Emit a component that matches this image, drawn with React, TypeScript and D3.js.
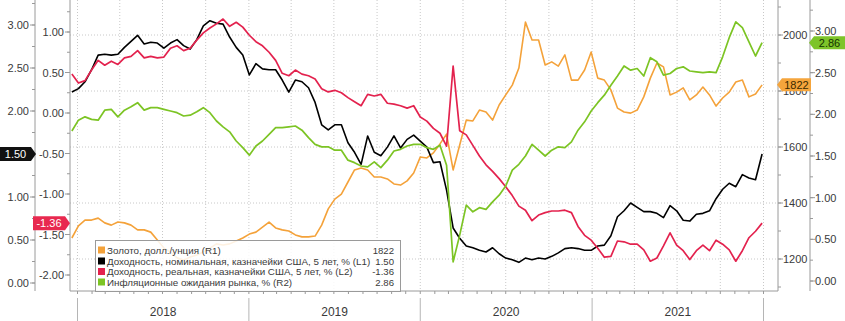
import React from "react";
import * as d3 from "d3";

const START = new Date(2017, 11, 20);
const dates = d3.range(106).map((i) => d3.timeDay.offset(START, 14 * i));

const gold = [
  1275, 1318, 1339, 1339, 1346, 1329, 1321, 1332, 1329, 1321,
  1304, 1304, 1296, 1268, 1239, 1225, 1204, 1196, 1207, 1214,
  1225, 1239, 1254, 1250, 1254, 1264, 1275, 1289, 1296, 1314,
  1332, 1311, 1304, 1300, 1286, 1279, 1279, 1282, 1321, 1379,
  1414, 1432, 1475, 1518, 1525, 1518, 1493, 1493, 1486, 1468,
  1464, 1479, 1507, 1564, 1561, 1579, 1611, 1646, 1518, 1607,
  1696, 1693, 1732, 1725, 1696, 1750, 1786, 1821, 1882, 2046,
  1982, 1982, 1893, 1904, 1889, 1929, 1839, 1839, 1875, 1939,
  1846, 1839, 1804, 1739, 1725, 1721, 1732, 1779, 1846, 1900,
  1886, 1786, 1796, 1811, 1768, 1786, 1814, 1786, 1746, 1775,
  1796, 1832, 1839, 1779, 1789, 1822,
];

const nominal = [
  2.22, 2.26, 2.34, 2.48, 2.65, 2.66, 2.65, 2.66, 2.74, 2.81,
  2.88, 2.78, 2.8, 2.79, 2.73, 2.79, 2.83, 2.76, 2.72, 2.83,
  2.99, 3.05, 3.02, 3.01, 2.86, 2.74, 2.65, 2.42, 2.55, 2.49,
  2.48, 2.48, 2.36, 2.22, 2.36, 2.34, 2.27, 2.1, 1.84, 1.78,
  1.84, 1.84, 1.63, 1.52, 1.38, 1.71, 1.52, 1.48, 1.58, 1.71,
  1.57, 1.67, 1.72, 1.65, 1.58, 1.4, 1.41, 1.08, 0.64, 0.52,
  0.43, 0.41, 0.38, 0.36, 0.41, 0.34, 0.29, 0.27, 0.24, 0.29,
  0.27, 0.29, 0.28, 0.31, 0.35, 0.4, 0.41, 0.4, 0.38, 0.38,
  0.43, 0.44, 0.55, 0.77, 0.84, 0.93, 0.88, 0.83, 0.83, 0.81,
  0.76, 0.9, 0.84, 0.73, 0.72, 0.8, 0.81, 0.84, 0.98, 1.09,
  1.16, 1.12, 1.26, 1.22, 1.2, 1.5,
];

const real = [
  0.48, 0.37, 0.4, 0.53, 0.65, 0.59, 0.64, 0.6, 0.68, 0.7,
  0.77, 0.68, 0.7, 0.68, 0.69, 0.8, 0.83, 0.77, 0.8, 0.9,
  0.99, 1.05, 1.1, 1.16, 1.07, 1.12, 1.06, 0.96, 0.88, 0.83,
  0.75, 0.65, 0.49, 0.46, 0.53, 0.48, 0.46, 0.42, 0.3, 0.26,
  0.28, 0.25, 0.19, 0.14, 0.09, 0.23, 0.21, 0.23, 0.12, 0.11,
  0.09, 0.06, 0.09, -0.05, -0.1, -0.19, -0.25, -0.41, 0.58, -0.22,
  -0.27, -0.4, -0.53, -0.64, -0.72, -0.81, -0.91, -1.02, -1.15, -1.2,
  -1.33, -1.26, -1.23, -1.21, -1.21, -1.2, -1.23, -1.4, -1.51, -1.57,
  -1.67, -1.78, -1.77, -1.58, -1.59, -1.62, -1.62, -1.69, -1.83, -1.79,
  -1.64, -1.48, -1.63, -1.7, -1.81, -1.7, -1.63, -1.7, -1.57, -1.62,
  -1.69, -1.83, -1.7, -1.54, -1.46, -1.36,
];

const breakeven = [
  1.8, 1.93, 1.97, 1.94, 1.93, 2.05, 2.06, 1.97, 2.05, 2.09,
  2.14, 2.05, 2.08, 2.08, 2.06, 2.04, 2.02, 1.98, 1.99, 2.03,
  2.08, 2.02, 1.92, 1.85, 1.79, 1.68, 1.6, 1.51, 1.62, 1.68,
  1.76, 1.84, 1.84, 1.85, 1.86, 1.81, 1.72, 1.64, 1.61, 1.61,
  1.57, 1.57, 1.45, 1.42, 1.38, 1.37, 1.43, 1.36, 1.45, 1.56,
  1.58, 1.62, 1.64, 1.64, 1.6, 1.58, 1.63, 1.39, 0.23, 0.55,
  0.91, 0.83, 0.88, 0.86, 0.95, 1.03, 1.14, 1.33, 1.4, 1.5,
  1.64, 1.57, 1.5, 1.57, 1.61, 1.6, 1.67, 1.81, 1.91, 2.04,
  2.14, 2.23, 2.35, 2.46, 2.58, 2.53, 2.55, 2.46, 2.68, 2.63,
  2.47, 2.49, 2.55, 2.57, 2.52, 2.51, 2.5, 2.51, 2.5, 2.69,
  2.92, 3.11, 3.04, 2.87, 2.7, 2.86,
];

const years = ["2018", "2019", "2020", "2021"];
const l1Ticks = [0, 0.5, 1, 2, 2.5, 3];
const l2Ticks = [-2, -1.5, -1, -0.5, 0, 0.5, 1];
const r1Ticks = [1200, 1400, 1600, 1800, 2000];
const r2Ticks = [0, 0.5, 1, 1.5, 2, 2.5, 3];

const legendLabels = [
  "Золото, долл./унция (R1)",
  "Доходность, номинальная, казначейки США, 5 лет, % (L1)",
  "Доходность, реальная, казначейки США, 5 лет, % (L2)",
  "Инфляционные ожидания рынка, % (R2)",
];
const legendValues = ["1822", "1.50", "-1.36", "2.86"];

const C_GOLD = "#f4a23a";
const C_BLACK = "#000000";
const C_RED = "#e3224e";
const C_GREEN = "#7cc424";

const W = 845;
const H = 321;
const PL = 70;
const PR = 778;
const PT = 0;
const PB = 291;
const FONT = "'Liberation Sans', Arial, sans-serif";

const x = d3.scaleTime().domain([new Date(2018, 0, 1), new Date(2022, 0, 1)]).range([77.5, 763.5]);
const yL1 = d3.scaleLinear().domain([0, 3]).range([283, 25]);
const yL2 = d3.scaleLinear().domain([-2, 1]).range([275, 32]);
const yR1 = d3.scaleLinear().domain([1200, 2000]).range([259, 35]);
const yR2 = d3.scaleLinear().domain([0, 3]).range([281, 31]);

function mk(vals: number[], y: d3.ScaleLinear<number, number>) {
  return d3
    .line<number>()
    .x((_, i) => x(dates[i]))
    .y((v) => y(v))(vals) as string;
}

function minorVals(lo: number, hi: number, step: number) {
  const out: number[] = [];
  for (let v = lo; v <= hi + 1e-9; v += step) out.push(+v.toFixed(4));
  return out;
}

function inPlot(yy: number) {
  return yy >= PT && yy <= PB;
}

function LeftTag({ x0, x1, y, fill, text, color }: any) {
  const h = 14;
  const d = `M${x0},${y - h / 2}L${x1 - 5},${y - h / 2}L${x1},${y}L${x1 - 5},${y + h / 2}L${x0},${y + h / 2}Z`;
  return (
    <g>
      <path d={d} fill={fill} />
      <text x={(x0 + x1 - 5) / 2} y={y} textAnchor="middle" dominantBaseline="central" fontSize={11} fill={color} fontFamily={FONT}>
        {text}
      </text>
    </g>
  );
}

function RightTag({ x0, x1, y, fill, text, color }: any) {
  const h = 13;
  const d = `M${x0},${y}L${x0 + 5},${y - h / 2}L${x1},${y - h / 2}L${x1},${y + h / 2}L${x0 + 5},${y + h / 2}Z`;
  return (
    <g>
      <path d={d} fill={fill} />
      <text x={(x0 + 5 + x1) / 2} y={y} textAnchor="middle" dominantBaseline="central" fontSize={11} fill={color} fontFamily={FONT}>
        {text}
      </text>
    </g>
  );
}

export default function App() {
  const quarterLines = d3.timeMonth.every(3)!.range(new Date(2018, 0, 1), new Date(2022, 0, 2));
  const monthTicks = d3.timeMonth.range(new Date(2017, 11, 1), new Date(2022, 1, 1)).filter((d) => x(d) >= PL && x(d) <= PR);
  const yearStarts = [2018, 2019, 2020, 2021, 2022].map((yr) => new Date(yr, 0, 1));
  const axisCol = "#9a9a9a";
  const txtCol = "#3a3a3a";

  const legendColors = [C_GOLD, C_BLACK, C_RED, C_GREEN];
  const legendRows = [250, 261, 271.5, 282];

  return (
    <svg width={W} height={H} style={{ position: "absolute", left: 0, top: 0, background: "#fff" }} fontFamily={FONT}>
      <defs>
        <clipPath id="plotclip">
          <rect x={PL} y={PT} width={PR - PL} height={PB - PT} />
        </clipPath>
      </defs>
      <rect x={0} y={0} width={W} height={H} fill="#fff" />

      {quarterLines.map((d, i) => (
        <line key={"vg" + i} x1={x(d)} x2={x(d)} y1={PT} y2={PB} stroke="#c8c8c8" strokeWidth={1} strokeDasharray="1,2" />
      ))}
      {r1Ticks.map((v) => (
        <line key={"hg" + v} x1={PL} x2={PR} y1={yR1(v)} y2={yR1(v)} stroke="#c8c8c8" strokeWidth={1} strokeDasharray="1,2" />
      ))}

      <g clipPath="url(#plotclip)" fill="none" strokeLinejoin="round">
        <path d={mk(gold, yR1)} stroke={C_GOLD} strokeWidth={1.6} />
        <path d={mk(nominal, yL1)} stroke={C_BLACK} strokeWidth={1.6} />
        <path d={mk(real, yL2)} stroke={C_RED} strokeWidth={1.7} />
        <path d={mk(breakeven, yR2)} stroke={C_GREEN} strokeWidth={1.7} />
      </g>

      <line x1={PL} x2={PL} y1={PT} y2={PB} stroke={axisCol} />
      <line x1={PR} x2={PR} y1={PT} y2={PB} stroke={axisCol} />
      <line x1={PL} x2={PR} y1={PB} y2={PB} stroke={axisCol} />

      {monthTicks.map((d, i) => (
        <line key={"mt" + i} x1={x(d)} x2={x(d)} y1={PB} y2={PB + 3} stroke={axisCol} />
      ))}

      {yearStarts.map((d, i) => (
        <line key={"ys" + i} x1={x(d)} x2={x(d)} y1={298} y2={321} stroke="#b5b5b5" />
      ))}
      {years.map((yl, i) => {
        const mid = (x(yearStarts[i]) + x(yearStarts[i + 1])) / 2;
        return (
          <text key={yl} x={mid} y={312} textAnchor="middle" dominantBaseline="central" fontSize={12} fill={txtCol}>
            {yl}
          </text>
        );
      })}

      <line x1={35} x2={35} y1={PT} y2={PB} stroke={axisCol} />
      {minorVals(0, 3.25, 0.25).filter((v) => inPlot(yL1(v))).map((v) => (
        <line key={"l1m" + v} x1={32} x2={35} y1={yL1(v)} y2={yL1(v)} stroke={axisCol} />
      ))}
      {l1Ticks.map((v) => (
        <g key={"l1" + v}>
          <line x1={30} x2={35} y1={yL1(v)} y2={yL1(v)} stroke={axisCol} />
          <text x={29} y={yL1(v)} textAnchor="end" dominantBaseline="central" fontSize={11} fill={txtCol}>
            {v.toFixed(2)}
          </text>
        </g>
      ))}

      {minorVals(-2, 1.25, 0.25).filter((v) => inPlot(yL2(v))).map((v) => (
        <line key={"l2m" + v} x1={67} x2={PL} y1={yL2(v)} y2={yL2(v)} stroke={axisCol} />
      ))}
      {l2Ticks.map((v) => (
        <g key={"l2" + v}>
          <line x1={65} x2={PL} y1={yL2(v)} y2={yL2(v)} stroke={axisCol} />
          <text x={64} y={yL2(v)} textAnchor="end" dominantBaseline="central" fontSize={11} fill={txtCol}>
            {v.toFixed(2)}
          </text>
        </g>
      ))}

      {minorVals(1100, 2100, 100).filter((v) => inPlot(yR1(v))).map((v) => (
        <line key={"r1m" + v} x1={PR} x2={PR + 3} y1={yR1(v)} y2={yR1(v)} stroke={axisCol} />
      ))}
      {r1Ticks.map((v) => (
        <g key={"r1" + v}>
          <line x1={PR} x2={PR + 5} y1={yR1(v)} y2={yR1(v)} stroke={axisCol} />
          <text x={PR + 5} y={yR1(v)} textAnchor="start" dominantBaseline="central" fontSize={11} fill={txtCol}>
            {v}
          </text>
        </g>
      ))}

      <line x1={810} x2={810} y1={PT} y2={PB} stroke={axisCol} />
      {minorVals(0, 3.25, 0.25).filter((v) => inPlot(yR2(v))).map((v) => (
        <line key={"r2m" + v} x1={810} x2={813} y1={yR2(v)} y2={yR2(v)} stroke={axisCol} />
      ))}
      {r2Ticks.map((v) => (
        <g key={"r2" + v}>
          <line x1={810} x2={815} y1={yR2(v)} y2={yR2(v)} stroke={axisCol} />
          <text x={815} y={yR2(v)} textAnchor="start" dominantBaseline="central" fontSize={11} fill={txtCol}>
            {v.toFixed(2)}
          </text>
        </g>
      ))}

      <rect x={95.5} y={240.5} width={305} height={51} fill="#ffffff" fillOpacity={0.85} stroke="#9a9a9a" />
      {legendLabels.map((lab, i) => (
        <g key={"lg" + i}>
          <rect x={98} y={legendRows[i] - 3.5} width={7} height={7} fill={legendColors[i]} />
          <text x={107} y={legendRows[i]} dominantBaseline="central" fontSize={9.8} fill={txtCol}>
            {lab}
          </text>
          <text x={394} y={legendRows[i]} textAnchor="end" dominantBaseline="central" fontSize={9.6} fill={txtCol}>
            {legendValues[i]}
          </text>
        </g>
      ))}

      <LeftTag x0={0} x1={36} y={yL1(nominal[nominal.length - 1])} fill="#111" text="1.50" color="#fff" />
      <LeftTag x0={33} x1={70} y={yL2(real[real.length - 1])} fill="#e8294f" text="-1.36" color="#fff" />
      <RightTag x0={777} x1={811} y={yR1(gold[gold.length - 1])} fill="#f5a53c" text="1822" color="#3a2a00" />
      <RightTag x0={809} x1={845} y={yR2(breakeven[breakeven.length - 1])} fill="#7dc42a" text="2.86" color="#133300" />
    </svg>
  );
}
